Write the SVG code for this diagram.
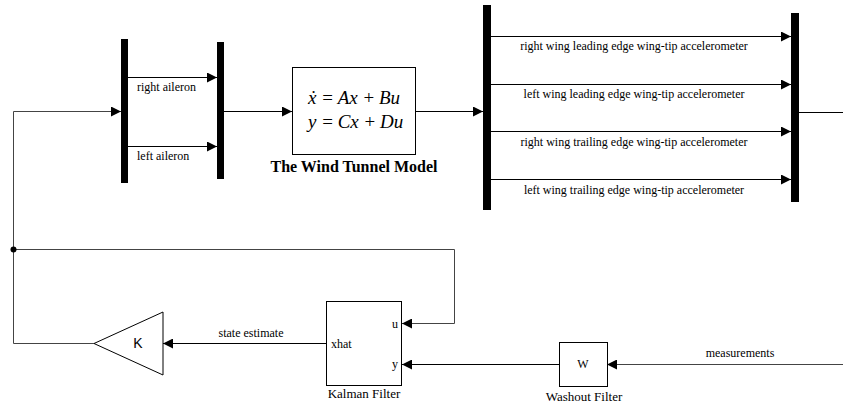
<svg xmlns="http://www.w3.org/2000/svg" width="843" height="409" viewBox="0 0 843 409">
<style>
.ln{fill:none;stroke:#000;stroke-width:1}
.fb{fill:none;stroke:#444;stroke-width:1}
.bar{fill:#000}
.box{fill:#fff;stroke:#000;stroke-width:1}
.t{font-family:"Liberation Serif","Times New Roman",serif;font-size:12px;fill:#000}
.c{text-anchor:middle}
.cap{font-family:"Liberation Serif","Times New Roman",serif;font-size:13px;fill:#000;text-anchor:middle}
.eq{font-family:"Liberation Serif","Times New Roman",serif;font-size:19px;font-style:italic;fill:#000}
.up{font-style:normal}
</style>
<defs>
<marker id="ah" markerUnits="userSpaceOnUse" viewBox="0 0 10 10" refX="10" refY="5" markerWidth="10" markerHeight="10" orient="auto">
<path d="M0,0 L10,5 L0,10 z" fill="#000"/>
</marker>
</defs>
<g id="connectors">
<path class="fb" d="M94 343.5 H13.5 V111.5 H121" marker-end="url(#ah)"/>
<path class="fb" d="M13.5 249.5 H454.5 V323.5 H402" marker-end="url(#ah)"/>
<circle cx="13.5" cy="249.5" r="3" fill="#000"/>
<path class="ln" d="M326 343.5 H163" marker-end="url(#ah)"/>
<path class="ln" d="M559 364.5 H402" marker-end="url(#ah)"/>
<path class="fb" d="M843 364.5 H607" marker-end="url(#ah)"/>
<path class="ln" d="M128 77.5 H217" marker-end="url(#ah)"/>
<path class="ln" d="M128 146.5 H217" marker-end="url(#ah)"/>
<path class="ln" d="M224 111.5 H292" marker-end="url(#ah)"/>
<path class="ln" d="M416 111.5 H483" marker-end="url(#ah)"/>
<path class="ln" d="M491 36.5 H791" marker-end="url(#ah)"/>
<path class="ln" d="M491 84.5 H791" marker-end="url(#ah)"/>
<path class="ln" d="M491 131.5 H791" marker-end="url(#ah)"/>
<path class="ln" d="M491 179.5 H791" marker-end="url(#ah)"/>
<path class="ln" d="M799 112.5 H843"/>
<text class="t" x="137" y="91">right aileron</text>
<text class="t" x="137" y="160">left aileron</text>
<text class="t c" x="634" y="50">right wing leading edge wing-tip accelerometer</text>
<text class="t c" x="634" y="98">left wing leading edge wing-tip accelerometer</text>
<text class="t c" x="634" y="146">right wing trailing edge wing-tip accelerometer</text>
<text class="t c" x="634" y="194">left wing trailing edge wing-tip accelerometer</text>
<text class="t c" x="251" y="337">state estimate</text>
<text class="t c" x="740" y="357">measurements</text>
</g>
<g id="mux1"><rect class="bar" x="121" y="39" width="7" height="144"/></g>
<g id="mux2"><rect class="bar" x="217" y="42" width="7" height="137"/></g>
<g id="model">
<rect class="box" x="292.5" y="67.5" width="123" height="87"/>
<text class="eq" x="308" y="104">x&#x307;<tspan class="up" dx="1"> = </tspan>Ax<tspan class="up" dx="1"> + </tspan>Bu</text>
<text class="eq" x="308" y="128">y<tspan class="up" dx="1"> = </tspan>Cx<tspan class="up" dx="1"> + </tspan>Du</text>
<text x="354" y="172" text-anchor="middle" font-family="Liberation Serif,serif" font-weight="bold" font-size="16">The Wind Tunnel Model</text>
</g>
<g id="demux3"><rect class="bar" x="483" y="5" width="8" height="205"/></g>
<g id="mux4"><rect class="bar" x="791" y="13" width="8" height="189"/></g>
<g id="gainK">
<path class="box" d="M94 343.5 L163 312 L163 375 z"/>
<text x="138" y="348" text-anchor="middle" font-family="Liberation Sans,Arial,sans-serif" font-size="14">K</text>
</g>
<g id="kalman">
<rect class="box" x="326.5" y="301.5" width="75" height="84"/>
<text class="t" x="331" y="348">xhat</text>
<text class="t" x="392" y="328">u</text>
<text class="t" x="392" y="368">y</text>
<text class="cap" x="364" y="398">Kalman Filter</text>
</g>
<g id="washout">
<rect class="box" x="559.5" y="342.5" width="48" height="44"/>
<text class="t c" x="583" y="368">W</text>
<text class="cap" x="584" y="401">Washout Filter</text>
</g>
</svg>
